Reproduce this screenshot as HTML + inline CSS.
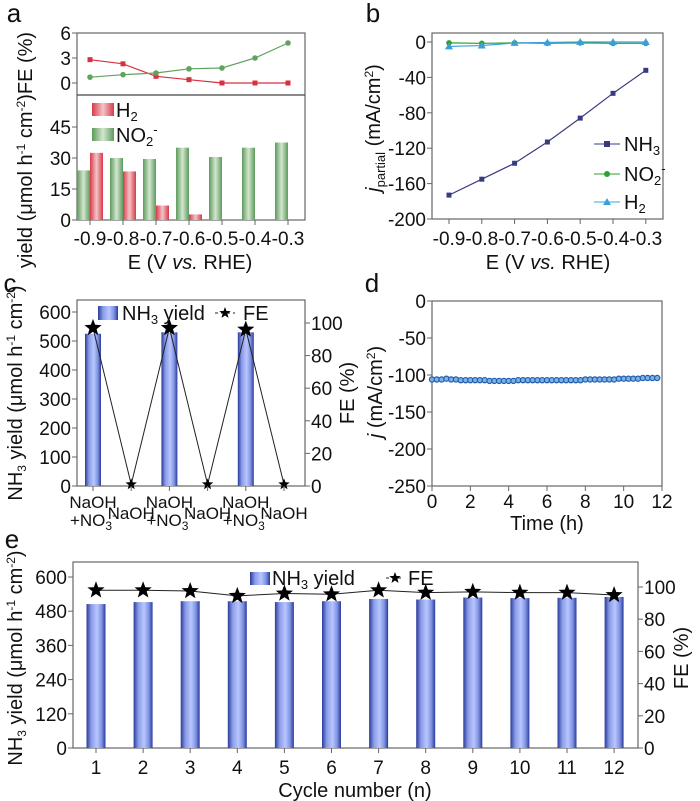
<!DOCTYPE html>
<html><head><meta charset="utf-8"><style>
body{margin:0;background:#fff}
svg{display:block;font-family:"Liberation Sans",Arial,sans-serif}
</style></head><body>
<svg id="fig" width="700" height="801" viewBox="0 0 700 801">
<defs>
<linearGradient id="gB" x1="0" x2="1" y1="0" y2="0">
<stop offset="0" stop-color="#2a3a9c"/><stop offset="0.25" stop-color="#8a9ce6"/><stop offset="0.55" stop-color="#b8c6ff"/><stop offset="0.8" stop-color="#7f92e0"/><stop offset="1" stop-color="#2a3a9c"/></linearGradient>
<linearGradient id="gR" x1="0" x2="1"><stop offset="0" stop-color="#d63a4a"/><stop offset="0.5" stop-color="#f4c4c8"/><stop offset="1" stop-color="#d63a4a"/></linearGradient>
<linearGradient id="gG" x1="0" x2="1"><stop offset="0" stop-color="#5c9a5c"/><stop offset="0.5" stop-color="#d4e6d0"/><stop offset="1" stop-color="#5c9a5c"/></linearGradient>
</defs>
</svg>
<script>
// ---------- data ----------
const potentials = ["-0.9","-0.8","-0.7","-0.6","-0.5","-0.4","-0.3"];
const feH2 = [2.8,2.3,0.8,0.4,0,0,0];
const feNO2 = [0.7,1.0,1.2,1.7,1.8,3.0,4.8];
const yieldNO2 = [24,30,29.5,35,30.5,35,37.5];
const yieldH2 = [32.5,23.5,7,2.7,0,0,0];
const jNH3 = [-173,-155,-137,-113,-86,-58,-32];
const jNO2 = [-1,-1.5,-1,-1.5,-1,-1.5,-1.5];
const jH2 = [-5,-4,-1,-0.5,0,0,0];
const cCats = ["NaOH\n+NO3","NaOH","NaOH\n+NO3","NaOH","NaOH\n+NO3","NaOH"];
const cYield = [525,0,530,0,530,0];
const cFE = [97,1,97,1,96,1];
const dTime = [0,0.25,0.5,0.75,1,1.25,1.5,1.75,2,2.25,2.5,2.75,3,3.25,3.5,3.75,4,4.25,4.5,4.75,5,5.25,5.5,5.75,6,6.25,6.5,6.75,7,7.25,7.5,7.75,8,8.25,8.5,8.75,9,9.25,9.5,9.75,10,10.25,10.5,10.75,11,11.25,11.5,11.75];
const dJ = [-106,-106,-106,-105,-106,-106,-107,-107,-107,-107,-107,-107,-108,-108,-108,-108,-108,-108,-107,-107,-107,-107,-107,-107,-107,-107,-107,-107,-107,-107,-107,-107,-106,-106,-106,-106,-106,-106,-106,-105,-105,-105,-105,-105,-104,-104,-104,-104];
const eCycles = ["1","2","3","4","5","6","7","8","9","10","11","12"];
const eYield = [505,512,515,515,512,515,523,521,528,526,527,530];
const eFE = [98,98,97.5,94.5,96,95.5,98,96.5,97,96.5,96.5,95];
const aTopTicks=[0,3,6], aBotTicks=[0,15,30,45];
const bTicks=[0,-40,-80,-120,-160,-200];
const cLeftTicks=[0,100,200,300,400,500,600], cRightTicks=[0,20,40,60,80,100];
const dYTicks=[0,-50,-100,-150,-200,-250], dXTicks=[0,2,4,6,8,10,12];
const eLeftTicks=[0,120,240,360,480,600], eRightTicks=[0,20,40,60,80,100];

const svg=document.getElementById('fig');
const NS="http://www.w3.org/2000/svg";
const TF=19, AF=20;
function mk(tag,attrs,parent){const e=document.createElementNS(NS,tag);for(const k in attrs)e.setAttribute(k,attrs[k]);(parent||svg).appendChild(e);return e;}
function txt(s,x,y,size,anchor,parent,rot){const t=mk('text',{x:x,y:y,'font-size':size,'text-anchor':anchor||'middle',fill:'#111'},parent);if(rot)t.setAttribute('transform','rotate(-90 '+x+' '+y+')');t.innerHTML=s;return t;}
function lin(d0,d1,p0,p1){return v=>p0+(v-d0)*(p1-p0)/(d1-d0);}
function star(cx,cy,r,parent){let p=[];for(let i=0;i<10;i++){const a=-Math.PI/2+i*Math.PI/5;const rr=i%2?r*0.42:r;p.push((cx+rr*Math.cos(a)).toFixed(1)+','+(cy+rr*Math.sin(a)).toFixed(1));}return mk('polygon',{points:p.join(' '),fill:'#000'},parent);}
function frame(x0,y0,x1,y1,parent){mk('rect',{x:x0,y:y0,width:x1-x0,height:y1-y0,fill:'none',stroke:'#666','stroke-width':1.2},parent);}
function yTicks(ticks,sc,x,parent,right){ticks.forEach(v=>{const y=sc(v);mk('line',{x1:x,x2:right?x+5:x-5,y1:y,y2:y,stroke:'#666'},parent);const t=txt(String(v),right?x+6:x-6,y+7,TF,right?'start':'end',parent);});}

// ---------- panel a ----------
const ga=mk('g',{});


txt('a',14,22,26,'middle',ga);
const aX=i=>90+i*33;
const aYt=lin(0,6,83,33), aYb=lin(0,60.5,220,95);
frame(77,33,305,220,ga);
mk('line',{x1:77,x2:305,y1:95,y2:95,stroke:'#444','stroke-width':1.2},ga);
yTicks(aTopTicks,aYt,77,ga);yTicks(aBotTicks,aYb,77,ga);
potentials.forEach((p,i)=>{mk('line',{x1:aX(i),x2:aX(i),y1:220,y2:225,stroke:'#666'},ga);const t=txt(p,aX(i),245,TF,'middle',ga);});
yieldNO2.forEach((v,i)=>{const r=mk('rect',{x:aX(i)-13,y:aYb(v),width:13,height:220-aYb(v),fill:'url(#gG)'},ga);});
yieldH2.forEach((v,i)=>{if(v<=0)return;const r=mk('rect',{x:aX(i),y:aYb(v),width:13,height:220-aYb(v),fill:'url(#gR)'},ga);});
function series(vals,xf,yf,color,parent,marker,name){const pl=mk('polyline',{points:vals.map((v,i)=>xf(i)+','+yf(v)).join(' '),fill:'none',stroke:color,'stroke-width':1.2},parent);vals.forEach((v,i)=>{const x=xf(i),y=yf(v);if(marker==='sq')mk('rect',{x:x-2.5,y:y-2.5,width:5,height:5,fill:color},parent);else if(marker==='tri')mk('polygon',{points:(x)+','+(y-4)+' '+(x-4)+','+(y+3)+' '+(x+4)+','+(y+3),fill:color},parent);else mk('circle',{cx:x,cy:y,r:2.8,fill:color},parent);});}
series(feH2,aX,aYt,'#d7303f',ga,'sq','fe-h2-line');
series(feNO2,aX,aYt,'#5fa35f',ga,'ci','fe-no2-line');
mk('rect',{x:92,y:103,width:22,height:13,fill:'url(#gR)'},ga);
txt('H<tspan font-size="13" dy="4">2</tspan>',116,117,AF,'start',ga);
mk('rect',{x:92,y:128,width:22,height:13,fill:'url(#gG)'},ga);
txt('NO<tspan font-size="13" dy="4">2</tspan><tspan font-size="13" dy="-12">-</tspan>',116,142,AF,'start',ga);
txt('E (V <tspan font-style="italic">vs.</tspan> RHE)',190,269,AF,'middle',ga);
txt('yield (μmol h<tspan font-size="12" dy="-7">-1</tspan><tspan dy="7"> cm</tspan><tspan font-size="12" dy="-7">-2</tspan><tspan dy="7">)FE (%)</tspan>',32,150,AF,'middle',ga,true);

// ---------- panel b ----------
const gb=mk('g',{});


txt('b',373,22,26,'middle',gb);
const bX=i=>449+i*32.8;
const bY=lin(0,-200,42,219);
frame(432,33,663,219,gb);
yTicks(bTicks,bY,432,gb);
potentials.forEach((p,i)=>{mk('line',{x1:bX(i),x2:bX(i),y1:219,y2:224,stroke:'#666'},gb);const t=txt(p,bX(i),245,TF,'middle',gb);});
series(jNH3,bX,bY,'#3a3a80',gb,'sq','j-nh3-line');
series(jNO2,bX,bY,'#2ea02e',gb,'ci','j-no2-line');
series(jH2,bX,bY,'#3aa0d8',gb,'tri','j-h2-line');
mk('line',{x1:594,x2:620,y1:144,y2:144,stroke:'#3a3a80'},gb);mk('rect',{x:604,y:141,width:6,height:6,fill:'#3a3a80'},gb);
txt('NH<tspan font-size="13" dy="4">3</tspan>',624,151,AF,'start',gb);
mk('line',{x1:594,x2:620,y1:174,y2:174,stroke:'#2ea02e'},gb);mk('circle',{cx:607,cy:174,r:3,fill:'#2ea02e'},gb);
txt('NO<tspan font-size="13" dy="4">2</tspan><tspan font-size="13" dy="-12">-</tspan>',624,181,AF,'start',gb);
mk('line',{x1:594,x2:620,y1:202,y2:202,stroke:'#3aa0d8'},gb);mk('polygon',{points:'607,198 603,205 611,205',fill:'#3aa0d8'},gb);
txt('H<tspan font-size="13" dy="4">2</tspan>',624,209,AF,'start',gb);
txt('E (V <tspan font-style="italic">vs.</tspan> RHE)',548,269,AF,'middle',gb);
txt('<tspan font-style="italic">j</tspan><tspan font-size="13" dy="5">partial</tspan><tspan dy="-5"> (mA/cm</tspan><tspan font-size="12" dy="-7">2</tspan><tspan dy="7">)</tspan>',380,128,AF,'middle',gb,true);

// ---------- panel c ----------
const gc=mk('g',{});


txt('c',10,292,26,'middle',gc);
const cX=i=>93+i*38.2;
const cYl=lin(0,600,486,312), cYr=lin(0,100,486,323);
frame(77,300,305,486,gc);
yTicks(cLeftTicks,cYl,77,gc);yTicks(cRightTicks,cYr,305,gc,true);
cYield.forEach((v,i)=>{if(v<=0)return;const r=mk('rect',{x:cX(i)-8,y:cYl(v),width:16,height:486-cYl(v),fill:'url(#gB)'},gc);});
const cl=mk('polyline',{points:cFE.map((v,i)=>cX(i)+','+cYr(v)).join(' '),fill:'none',stroke:'#222','stroke-width':1},gc);


cFE.forEach((v,i)=>star(cX(i),cYr(v),v>50?9:6,gc));
cCats.forEach((c,i)=>{mk('line',{x1:cX(i),x2:cX(i),y1:486,y2:491,stroke:'#666'},gc);if(c.indexOf('\n')>=0){txt('NaOH',cX(i),508,17,'middle',gc);txt('+NO<tspan font-size="12" dy="4">3</tspan><tspan font-size="12" dy="-11">-</tspan>',cX(i),526,17,'middle',gc);}else{txt('NaOH',cX(i),519,17,'middle',gc);}});
mk('rect',{x:98,y:306,width:20,height:14,fill:'url(#gB)'},gc);
txt('NH<tspan font-size="13" dy="4">3</tspan><tspan dy="-4"> yield</tspan>',122,320,AF,'start',gc);
mk('line',{x1:215,x2:235,y1:313,y2:313,stroke:'#222','stroke-dasharray':'3,3'},gc);star(225,313,6,gc);
txt('FE',243,320,AF,'start',gc);
txt('NH<tspan font-size="12" dy="4">3</tspan><tspan dy="-4"> yield (μmol h</tspan><tspan font-size="12" dy="-7">-1</tspan><tspan dy="7"> cm</tspan><tspan font-size="12" dy="-7">-2</tspan><tspan dy="7">)</tspan>',22,393,AF,'middle',gc,true);
txt('FE (%)',354,393,AF,'middle',gc,true);

// ---------- panel d ----------
const gd=mk('g',{});


txt('d',372,292,26,'middle',gd);
const dX=lin(0,12,432,662), dY=lin(0,-250,301,486);
frame(432,301,662,486,gd);
yTicks(dYTicks,dY,432,gd);
dXTicks.forEach(v=>{mk('line',{x1:dX(v),x2:dX(v),y1:486,y2:491,stroke:'#666'},gd);const t=txt(String(v),dX(v),508,TF,'middle',gd);});
dJ.forEach((v,i)=>{const c=mk('circle',{cx:dX(dTime[i]),cy:dY(v),r:2.6,fill:'#7fb0e0',stroke:'#1f5eb0','stroke-width':1.2},gd);});
txt('Time (h)',547,530,AF,'middle',gd);
txt('<tspan font-style="italic">j</tspan> (mA/cm<tspan font-size="12" dy="-7">2</tspan><tspan dy="7">)</tspan>',382,392,AF,'middle',gd,true);

// ---------- panel e ----------
const ge=mk('g',{});


txt('e',12,548,26,'middle',ge);
const eX=i=>96+i*47.1;
const eYl=lin(0,600,748,577), eYr=lin(0,100,748,587);
frame(73,562,638,748,ge);
yTicks(eLeftTicks,eYl,73,ge);yTicks(eRightTicks,eYr,638,ge,true);
eYield.forEach((v,i)=>{const r=mk('rect',{x:eX(i)-9.5,y:eYl(v),width:19,height:748-eYl(v),fill:'url(#gB)'},ge);});
const el=mk('polyline',{points:eFE.map((v,i)=>eX(i)+','+eYr(v)).join(' '),fill:'none',stroke:'#222','stroke-width':1},ge);


eFE.forEach((v,i)=>star(eX(i),eYr(v),9,ge));
eCycles.forEach((c,i)=>{mk('line',{x1:eX(i),x2:eX(i),y1:748,y2:753,stroke:'#666'},ge);const t=txt(c,eX(i),774,TF,'middle',ge);});
mk('rect',{x:250,y:572,width:20,height:13,fill:'url(#gB)'},ge);
txt('NH<tspan font-size="13" dy="4">3</tspan><tspan dy="-4"> yield</tspan>',272,585,AF,'start',ge);
mk('line',{x1:386,x2:404,y1:578,y2:578,stroke:'#222','stroke-dasharray':'3,3'},ge);star(395,578,6,ge);
txt('FE',408,585,AF,'start',ge);
txt('Cycle number (n)',355,797,AF,'middle',ge);
txt('NH<tspan font-size="12" dy="4">3</tspan><tspan dy="-4"> yield (μmol h</tspan><tspan font-size="12" dy="-7">-1</tspan><tspan dy="7"> cm</tspan><tspan font-size="12" dy="-7">-2</tspan><tspan dy="7">)</tspan>',22,658,AF,'middle',ge,true);
txt('FE (%)',688,658,AF,'middle',ge,true);
</script>
</body></html>
